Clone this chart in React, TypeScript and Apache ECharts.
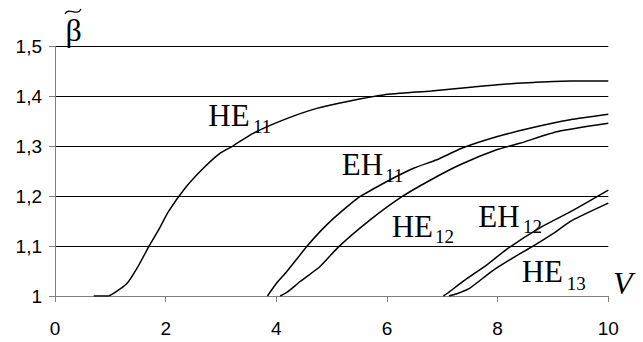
import React, { useEffect, useRef } from "react";
import * as echarts from "echarts";

const xTicks = [0, 2, 4, 6, 8, 10];
const yTickLabels = ["1", "1,1", "1,2", "1,3", "1,4", "1,5"];

const he11X = [0.7, 0.95, 1.08, 1.3, 1.51, 1.7, 1.87, 2.05, 2.35, 2.68, 2.98, 3.22, 3.58, 4.13, 4.73, 5.33, 5.94, 6.8, 7.56, 8.05, 8.65, 9.31, 10.0];
const he11Y = [1.0, 1.0, 1.007, 1.025, 1.061, 1.1, 1.132, 1.169, 1.216, 1.256, 1.286, 1.301, 1.326, 1.353, 1.376, 1.391, 1.403, 1.411, 1.419, 1.424, 1.428, 1.431, 1.431];

const eh11X = [3.84, 4.0, 4.19, 4.55, 4.79, 5.03, 5.39, 5.51, 5.99, 6.48, 6.9, 7.35, 7.98, 8.58, 9.31, 10.0];
const eh11Y = [1.0, 1.025, 1.049, 1.099, 1.129, 1.155, 1.189, 1.199, 1.229, 1.256, 1.273, 1.296, 1.319, 1.336, 1.353, 1.364];

const he12X = [4.07, 4.2, 4.43, 4.79, 5.12, 5.69, 6.27, 6.78, 7.32, 7.98, 8.4, 9.07, 10.0];
const he12Y = [1.0, 1.008, 1.029, 1.059, 1.098, 1.152, 1.199, 1.232, 1.263, 1.293, 1.306, 1.329, 1.346];

const eh12X = [7.02, 7.1, 7.38, 7.8, 8.18, 8.77, 9.37, 10.0];
const eh12Y = [1.0, 1.006, 1.03, 1.062, 1.095, 1.137, 1.172, 1.212];

const he13X = [7.12, 7.25, 7.5, 7.9, 8.3, 8.64, 9.0, 9.34, 10.0];
const he13Y = [1.0, 1.004, 1.016, 1.05, 1.078, 1.1, 1.125, 1.151, 1.186];

const curveNames = ["HE11", "EH11", "HE12", "EH12", "HE13"];

const zip = (xs: number[], ys: number[]) => xs.map((x, i) => [x, ys[i]]);

export default function App() {
  const ref = useRef<HTMLDivElement>(null);
  useEffect(() => {
    document.body.style.margin = "0";
    const chart = echarts.init(ref.current!, null, { renderer: "svg" });
    const serif = "'Liberation Serif', 'Times New Roman', serif";
    const mainFont = { fontFamily: serif, fontSize: 31, fill: "#000" };
    const subFont = { fontFamily: serif, fontSize: 19, fill: "#000" };
    const label = (main: string, sub: string, mx: number, my: number, sx: number, sy: number) => [
      { type: "text", x: mx, y: my, style: { ...mainFont, text: main, verticalAlign: "middle" } },
      { type: "text", x: sx, y: sy, style: { ...subFont, text: sub, verticalAlign: "middle" } },
    ];
    const seriesData = [
      zip(he11X, he11Y),
      zip(eh11X, eh11Y),
      zip(he12X, he12Y),
      zip(eh12X, eh12Y),
      zip(he13X, he13Y),
    ];
    chart.setOption({
      animation: false,
      backgroundColor: "#fff",
      grid: { left: 55, right: 34.7, top: 46.5, bottom: 46, containLabel: false },
      xAxis: {
        type: "value",
        min: 0,
        max: 10,
        interval: 2,
        axisLine: { show: true, lineStyle: { color: "#808080", width: 1 } },
        axisTick: { show: true, length: 6, lineStyle: { color: "#808080" } },
        splitLine: { show: false },
        axisLabel: {
          margin: 23,
          color: "#000",
          fontSize: 19,
          fontFamily: "'Liberation Sans', Arial, sans-serif",
          formatter: (v: number) => String(xTicks.find((t) => Math.abs(t - v) < 1e-9) ?? v),
        },
      },
      yAxis: {
        type: "value",
        min: 1,
        max: 1.5,
        interval: 0.1,
        axisLine: { show: true, lineStyle: { color: "#808080", width: 1 } },
        axisTick: { show: true, length: 6, lineStyle: { color: "#808080" } },
        splitLine: {
          show: true,
          lineStyle: { color: ["#808080", "#000", "#000", "#000", "#000", "#000"], width: 1 },
        },
        axisLabel: {
          margin: 13,
          color: "#000",
          fontSize: 19,
          fontFamily: "'Liberation Sans', Arial, sans-serif",
          formatter: (v: number) => yTickLabels[Math.round((v - 1) * 10)],
        },
      },
      series: seriesData.map((d, i) => ({
        name: curveNames[i],
        type: "line",
        data: d,
        showSymbol: false,
        smooth: 0.2,
        lineStyle: { color: "#000", width: 1.5 },
        z: 5,
      })),
      graphic: [
        { type: "text", x: 65.5, y: 30, style: { fontFamily: serif, fontSize: 32, text: "β", fill: "#000", verticalAlign: "middle" } },
        {
          type: "bezierCurve",
          shape: { x1: 65, y1: 14, cpx1: 68.5, cpy1: 6.5, cpx2: 77, cpy2: 17, x2: 81, y2: 9 },
          style: { stroke: "#000", lineWidth: 1.4, fill: "none" },
        },
        ...label("HE", "11", 208.3, 115.5, 253, 126.1),
        ...label("EH", "11", 341.7, 164.5, 385, 175.1),
        ...label("HE", "12", 391.7, 226.2, 435, 236.9),
        ...label("EH", "12", 478.3, 216.2, 523, 226.9),
        ...label("HE", "13", 521.7, 271.2, 566.7, 283.6),
        { type: "text", x: 613, y: 282.5, style: { fontFamily: serif, fontSize: 32, fontStyle: "italic", text: "V", fill: "#000", verticalAlign: "middle" } },
      ],
    });
    return () => chart.dispose();
  }, []);
  return <div ref={ref} style={{ width: 643, height: 342 }} />;
}
